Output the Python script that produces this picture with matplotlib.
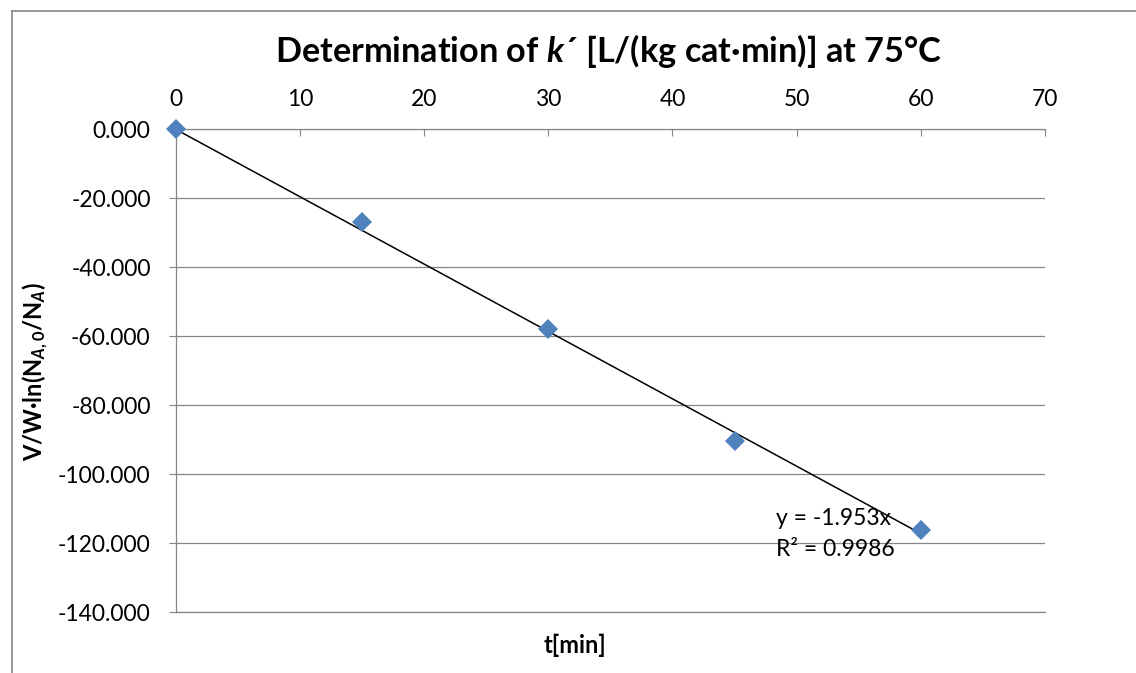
import numpy as np
import matplotlib
matplotlib.use("Agg")
import matplotlib.pyplot as plt
from matplotlib.lines import Line2D

# data
t_min = [0, 15, 30, 45, 60]
y_vals = [0.0, -26.9, -58.0, -90.3, -116.1]
slope = -1.953
r_squared = 0.9986
x_ticks = [0, 10, 20, 30, 40, 50, 60, 70]
y_ticks = [0, -20, -40, -60, -80, -100, -120, -140]

W, H = 1136, 673
plt.rcParams['font.family'] = ['Lato', 'DejaVu Sans']
plt.rcParams['mathtext.fontset'] = 'custom'
plt.rcParams['mathtext.rm'] = 'Lato:bold'
plt.rcParams['mathtext.it'] = 'Lato:italic:bold'
plt.rcParams['mathtext.bf'] = 'Lato:bold'

grid_col = '#868686'

fig = plt.figure(figsize=(W / 100, H / 100), dpi=100)
ax = fig.add_axes([175.7 / W, 1 - 612.3 / H, (1045 - 175.7) / W, (612.3 - 129.3) / H])

# trendline through origin
x_fit = np.array([0, t_min[-1]])
ax.plot(x_fit, slope * x_fit, color='black', lw=1.1, zorder=3)
ax.plot(t_min, y_vals, linestyle='none', marker='D', ms=10,
        color='#4F81BD', mec='#4F81BD', mew=0, zorder=4, clip_on=False)

ax.set_xlim(0, 70)
ax.set_ylim(-140, 0)
ax.set_xticks(x_ticks)
ax.set_yticks(y_ticks)
ax.set_yticklabels([f"{v:.3f}" for v in y_ticks])

ax.xaxis.tick_top()
ax.tick_params(axis='x', direction='in', length=5, width=0.8, color=grid_col,
               labelsize=16.5, pad=14)
ax.tick_params(axis='y', direction='out', length=5, width=0.8, color=grid_col,
               labelsize=16.5, pad=13)

ax.yaxis.grid(True, color=grid_col, lw=0.9)
ax.set_axisbelow(True)
ax.spines['right'].set_visible(False)
for side in ['top', 'left', 'bottom']:
    ax.spines[side].set_color(grid_col)
    ax.spines[side].set_linewidth(0.9)

# trendline label
ax.text(48.3, -117.3, f"y = {slope}x\nR² = {r_squared}", fontsize=16.5,
        ha='left', va='center', linespacing=1.55, zorder=5)

fig.text(608 / W, 1 - 62 / H, r"Determination of $k$´ [L/(kg cat·min)] at 75°C",
         fontsize=24.7, fontweight='bold', ha='center', va='baseline')
fig.text(36 / W, 1 - 372 / H, r"V/W·ln(N$_{A,0}$/N$_{A}$)", fontsize=17,
         fontweight='bold', rotation=90, ha='center', va='center')
fig.text(575 / W, 1 - 645 / H, "t[min]", fontsize=17, fontweight='bold',
         ha='center', va='center')

# outer chart border (cropped on right and bottom)
bx, by = 11.5 / W, 1 - 10.5 / H
fig.add_artist(Line2D([bx, bx], [0, by], color=grid_col, lw=1.2))
fig.add_artist(Line2D([bx, 1], [by, by], color=grid_col, lw=1.2))

fig.savefig("out.png", dpi=100)
